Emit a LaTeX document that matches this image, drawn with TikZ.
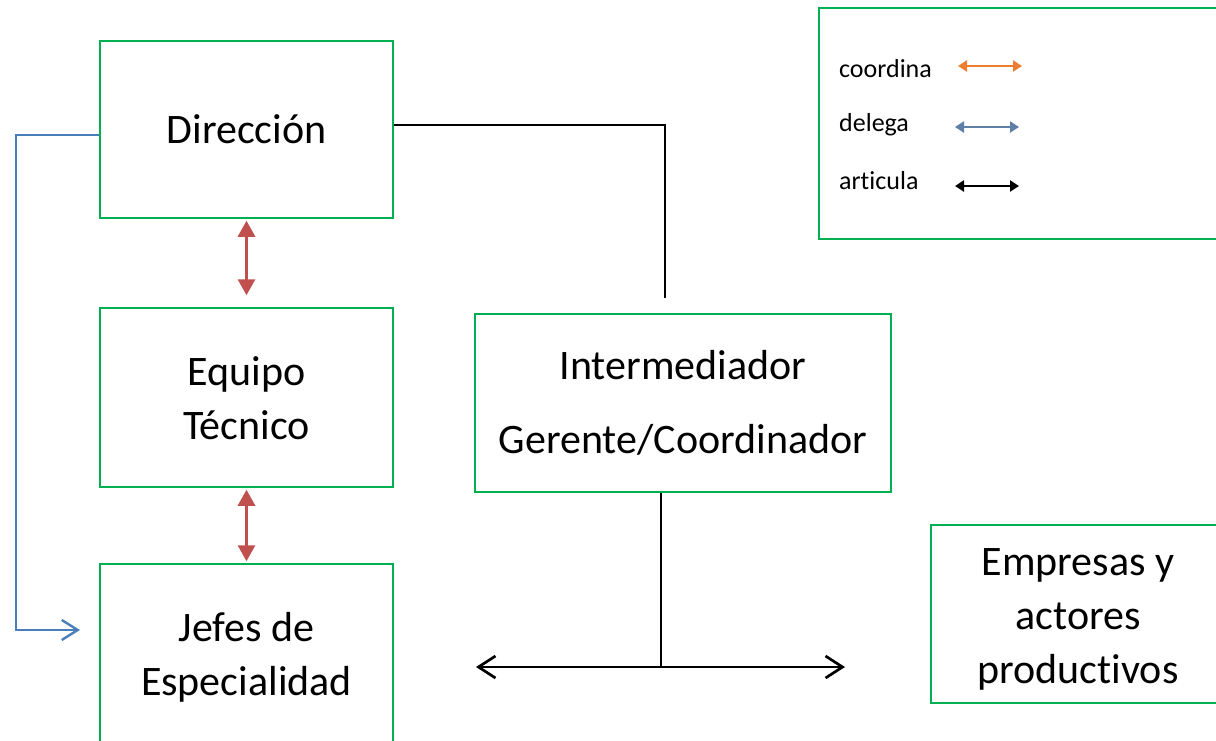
\documentclass[tikz,border=0pt]{standalone}
\usepackage{fontspec}
\setmainfont{Carlito}[Ligatures=NoCommon]
\usetikzlibrary{arrows.meta}
\definecolor{boxgreen}{HTML}{00B050}
\definecolor{redarr}{HTML}{C0504D}
\definecolor{bluearr}{HTML}{4A7EBB}
\definecolor{orangearr}{HTML}{ED7D31}
\definecolor{slatearr}{HTML}{5E7FA8}
\tikzset{
  box/.style={draw=boxgreen, line width=1.5pt, inner sep=0pt, align=center,
    font=\fontsize{42}{54}\selectfont},
  legtext/.style={anchor=west, inner sep=0pt, font=\fontsize{26}{30}\selectfont},
  redarrow/.style={draw=redarr, line width=3pt, {Triangle[length=16pt,width=17pt]}-{Triangle[length=16pt,width=17pt]}},
  bluearrow/.style={draw=bluearr, line width=2.4pt, -{Straight Barb[length=16pt,width=20pt,line width=2.4pt]}},
  blackline/.style={draw=black, line width=2.2pt},
  blackarrow/.style={draw=black, line width=2.7pt, {Straight Barb[length=17pt,width=22pt,line width=2.7pt]}-{Straight Barb[length=17pt,width=22pt,line width=2.7pt]}},
  legarrow/.style={line width=2.8pt, {Triangle[length=9pt,width=11pt]}-{Triangle[length=9pt,width=11pt]}}
}
\begin{document}
\begin{tikzpicture}[x=1pt,y=-1pt]
\clip (0,0) rectangle (1216,740);
\fill[white] (0,0) rectangle (1216,740);
% boxes
\node[box, minimum width=293pt, minimum height=177pt] (dir) at (246.5,129.5) {Dirección};
\node[box, minimum width=293pt, minimum height=179pt] (eq) at (246.5,397.5) {\rule{0pt}{31pt}Equipo\\Técnico};
\node[box, minimum width=293pt, minimum height=178pt] (jef) at (246.5,653) {\rule{0pt}{37pt}Jefes de\\Especialidad};
\node[box, minimum width=416pt, minimum height=178pt] (int) at (683,403) {Intermediador\\[20pt]Gerente/Coordinador};
\node[box, minimum width=294pt, minimum height=178pt] (emp) at (1078,614) {\rule{0pt}{38pt}Empresas y\\actores\\productivos};
\node[draw=boxgreen, line width=1.5pt, inner sep=0pt, minimum width=420pt, minimum height=231pt] (leg) at (1029,123.5) {};
% legend
\node[legtext] (lc) at (839,69) {coordina};
\node[legtext] (ld) at (839,125) {delega};
\node[legtext] (la) at (839,181) {articula};
\coordinate (lc1) at (958,66); \coordinate (lc2) at (1022,66);
\coordinate (ld1) at (955,127); \coordinate (ld2) at (1019,127);
\coordinate (la1) at (955,186); \coordinate (la2) at (1019,186);
\draw[legarrow, draw=orangearr, fill=orangearr] (lc1) -- (lc2);
\draw[legarrow, draw=slatearr, fill=slatearr] (ld1) -- (ld2);
\draw[legarrow, draw=black, fill=black] (la1) -- (la2);
% connectors
\coordinate (tick) at (665,298);
\draw[blackline] ([yshift=4.5pt]dir.east) -| (tick);
\coordinate (bl) at (80,630);
\draw[bluearrow] ([yshift=-5.5pt]dir.west) -| (16,630) -- (bl);
\draw[redarrow, fill=redarr] ([yshift=-2pt]dir.south) -- ([yshift=12pt]eq.north);
\draw[redarrow, fill=redarr] ([yshift=-2pt]eq.south) -- ([yshift=2pt]jef.north);
\coordinate (bM) at (661,667);
\coordinate (bL) at (476,667);
\coordinate (bR) at (845,667);
\draw[blackline] ([xshift=-22pt]int.south) -- (bM);
\draw[blackarrow] (bL) -- (bR);
\end{tikzpicture}
\end{document}
